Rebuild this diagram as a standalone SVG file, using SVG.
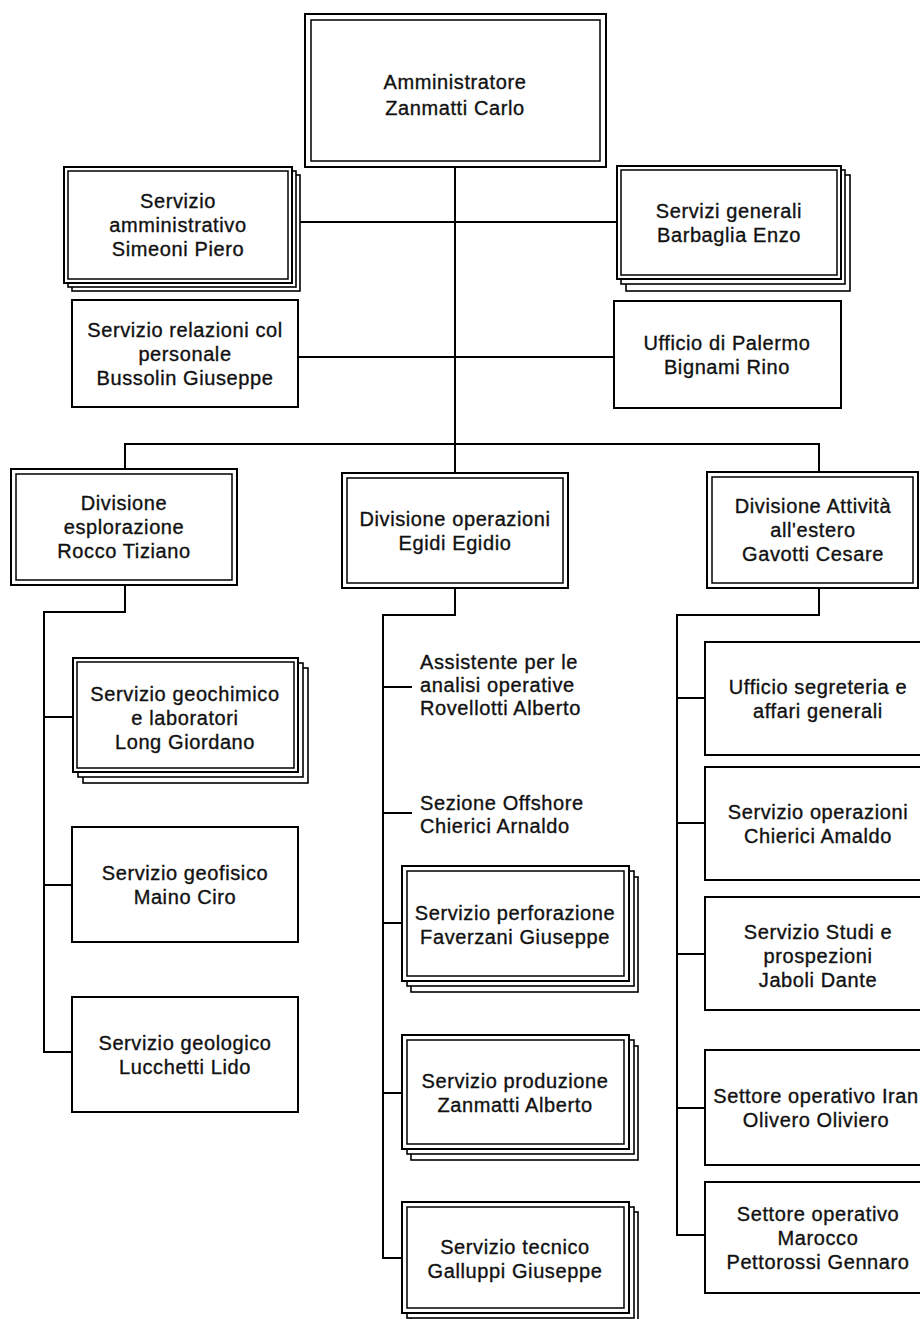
<svg xmlns="http://www.w3.org/2000/svg" width="920" height="1319" viewBox="0 0 920 1319">
  <style>
    .box { fill: #fff; stroke: #000; stroke-width: 2; }
    .inner { fill: none; stroke: #000; stroke-width: 1.5; }
    .sh { fill: #fff; stroke: #000; stroke-width: 1.6; }
    .conn { fill: none; stroke: #000; stroke-width: 2; }
    text { font-family: "Liberation Sans", Arial, Helvetica, sans-serif; font-size: 20px; fill: #111; stroke: #111; stroke-width: 0.35px; text-anchor: middle; letter-spacing: 0.6px; }
    text.left { text-anchor: start; }
  </style>
  <rect width="920" height="1319" fill="#fff"/>

  <!-- connectors -->
  <g id="connectors" class="conn">
    <path d="M455 167 V444"/>
    <path d="M292 222 H617"/>
    <path d="M298 357 H614"/>
    <path d="M125 469 V444 H819 V472"/>
    <path d="M455 444 V473"/>
    <!-- esplorazione branch -->
    <path d="M125 585 V612 H44 V1052 H72"/>
    <path d="M44 717 H73"/>
    <path d="M44 885 H72"/>
    <!-- operazioni branch -->
    <path d="M455 588 V615 H383 V1258 H402"/>
    <path d="M383 687 H412"/>
    <path d="M383 813 H412"/>
    <path d="M383 923 H402"/>
    <path d="M383 1093 H402"/>
    <!-- attivita estero branch -->
    <path d="M819 588 V615 H677 V1235 H705"/>
    <path d="M677 698 H705"/>
    <path d="M677 823 H705"/>
    <path d="M677 954 H705"/>
    <path d="M677 1108 H705"/>
  </g>

  <g id="amministratore">
    <rect class="box" x="305" y="14" width="301" height="153"/>
    <rect class="inner" x="311" y="20" width="289" height="141"/>
    <text x="455" y="89">Amministratore</text>
    <text x="455" y="115">Zanmatti Carlo</text>
  </g>

  <g id="servizio-amministrativo">
    <rect class="sh" x="72" y="175" width="228" height="116"/>
    <rect class="sh" x="68" y="171" width="228" height="116"/>
    <rect class="box" x="64" y="167" width="228" height="116"/>
    <rect class="inner" x="68" y="171" width="220" height="108"/>
    <text x="178" y="208">Servizio</text>
    <text x="178" y="232">amministrativo</text>
    <text x="178" y="256">Simeoni Piero</text>
  </g>

  <g id="servizi-generali">
    <rect class="sh" x="626" y="175" width="224" height="116"/>
    <rect class="sh" x="621" y="170" width="224" height="114"/>
    <rect class="box" x="617" y="166" width="224" height="113"/>
    <rect class="inner" x="621" y="170" width="216" height="105"/>
    <text x="729" y="218">Servizi generali</text>
    <text x="729" y="242">Barbaglia Enzo</text>
  </g>

  <g id="servizio-relazioni">
    <rect class="box" x="72" y="300" width="226" height="107"/>
    <text x="185" y="337">Servizio relazioni col</text>
    <text x="185" y="361">personale</text>
    <text x="185" y="385">Bussolin Giuseppe</text>
  </g>

  <g id="ufficio-palermo">
    <rect class="box" x="614" y="301" width="227" height="107"/>
    <text x="727" y="350">Ufficio di Palermo</text>
    <text x="727" y="374">Bignami Rino</text>
  </g>

  <g id="divisione-esplorazione">
    <rect class="box" x="11" y="469" width="226" height="116"/>
    <rect class="inner" x="16" y="474" width="216" height="106"/>
    <text x="124" y="510">Divisione</text>
    <text x="124" y="534">esplorazione</text>
    <text x="124" y="558">Rocco Tiziano</text>
  </g>

  <g id="divisione-operazioni">
    <rect class="box" x="342" y="473" width="226" height="115"/>
    <rect class="inner" x="347" y="478" width="216" height="105"/>
    <text x="455" y="526">Divisione operazioni</text>
    <text x="455" y="550">Egidi Egidio</text>
  </g>

  <g id="divisione-estero">
    <rect class="box" x="707" y="472" width="211" height="116"/>
    <rect class="inner" x="712" y="477" width="201" height="106"/>
    <text x="813" y="513">Divisione Attività</text>
    <text x="813" y="537">all'estero</text>
    <text x="813" y="561">Gavotti Cesare</text>
  </g>

  <g id="servizio-geochimico">
    <rect class="sh" x="83" y="668" width="225" height="115"/>
    <rect class="sh" x="78" y="663" width="225" height="114"/>
    <rect class="box" x="73" y="658" width="225" height="114"/>
    <rect class="inner" x="77" y="662" width="217" height="106"/>
    <text x="185" y="701">Servizio geochimico</text>
    <text x="185" y="725">e laboratori</text>
    <text x="185" y="749">Long Giordano</text>
  </g>

  <g id="servizio-geofisico">
    <rect class="box" x="72" y="827" width="226" height="115"/>
    <text x="185" y="880">Servizio geofisico</text>
    <text x="185" y="904">Maino Ciro</text>
  </g>

  <g id="servizio-geologico">
    <rect class="box" x="72" y="997" width="226" height="115"/>
    <text x="185" y="1050">Servizio geologico</text>
    <text x="185" y="1074">Lucchetti Lido</text>
  </g>

  <g id="assistente-analisi">
    <text class="left" x="420" y="669">Assistente per le</text>
    <text class="left" x="420" y="692">analisi operative</text>
    <text class="left" x="420" y="715">Rovellotti Alberto</text>
  </g>

  <g id="sezione-offshore">
    <text class="left" x="420" y="810">Sezione Offshore</text>
    <text class="left" x="420" y="833">Chierici Arnaldo</text>
  </g>

  <g id="servizio-perforazione">
    <rect class="sh" x="411" y="877" width="227" height="115"/>
    <rect class="sh" x="407" y="871" width="227" height="115"/>
    <rect class="box" x="402" y="866" width="227" height="115"/>
    <rect class="inner" x="407" y="871" width="217" height="105"/>
    <text x="515" y="920">Servizio perforazione</text>
    <text x="515" y="944">Faverzani Giuseppe</text>
  </g>

  <g id="servizio-produzione">
    <rect class="sh" x="411" y="1046" width="227" height="114"/>
    <rect class="sh" x="407" y="1040" width="227" height="114"/>
    <rect class="box" x="402" y="1035" width="227" height="114"/>
    <rect class="inner" x="407" y="1040" width="217" height="104"/>
    <text x="515" y="1088">Servizio produzione</text>
    <text x="515" y="1112">Zanmatti Alberto</text>
  </g>

  <g id="servizio-tecnico">
    <rect class="sh" x="411" y="1212" width="227" height="111"/>
    <rect class="sh" x="407" y="1207" width="227" height="111"/>
    <rect class="box" x="402" y="1202" width="227" height="111"/>
    <rect class="inner" x="407" y="1207" width="217" height="101"/>
    <text x="515" y="1254">Servizio tecnico</text>
    <text x="515" y="1278">Galluppi Giuseppe</text>
  </g>

  <g id="ufficio-segreteria">
    <rect class="box" x="705" y="642" width="221" height="113"/>
    <text x="818" y="694">Ufficio segreteria e</text>
    <text x="818" y="718">affari generali</text>
  </g>

  <g id="servizio-operazioni">
    <rect class="box" x="705" y="767" width="221" height="113"/>
    <text x="818" y="819">Servizio operazioni</text>
    <text x="818" y="843">Chierici Amaldo</text>
  </g>

  <g id="servizio-studi">
    <rect class="box" x="705" y="897" width="221" height="113"/>
    <text x="818" y="939">Servizio Studi e</text>
    <text x="818" y="963">prospezioni</text>
    <text x="818" y="987">Jaboli Dante</text>
  </g>

  <g id="settore-iran">
    <rect class="box" x="705" y="1050" width="221" height="115"/>
    <text x="816" y="1103">Settore operativo Iran</text>
    <text x="816" y="1127">Olivero Oliviero</text>
  </g>

  <g id="settore-marocco">
    <rect class="box" x="705" y="1182" width="221" height="111"/>
    <text x="818" y="1221">Settore operativo</text>
    <text x="818" y="1245">Marocco</text>
    <text x="818" y="1269">Pettorossi Gennaro</text>
  </g>
</svg>
